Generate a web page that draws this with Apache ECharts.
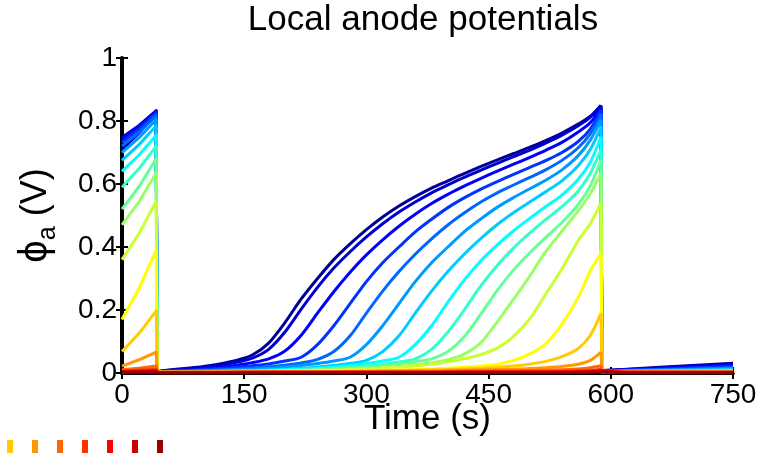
<!DOCTYPE html>
<html>
<head>
<meta charset="utf-8">
<script src="https://cdn.jsdelivr.net/npm/echarts@6.0.0/dist/echarts.min.js"></script>
<style>
  html, body { margin: 0; padding: 0; background: #ffffff; }
  #chart { width: 764px; height: 453px; }
</style>
</head>
<body>
<div id="chart"></div>
<script>
// Local anode potential along the electrode, one trace per segment (1 = near tab, 20 = far end)
const SEGMENT_NAMES = Array.from({ length: 20 }, (_, i) => 'Segment ' + (i + 1));

// x-axis ticks (s) and y-axis ticks (V)
const TIME_TICKS = [0, 150, 300, 450, 600, 750];
const POTENTIAL_TICKS = [0, 0.2, 0.4, 0.6, 0.8, 1];

// First pulse, 0-42 s: potential at start, middle and end of the pulse
const PULSE_TIME = [0, 21, 42];
const pulseStart = [0.710, 0.748, 0.742, 0.732, 0.720, 0.700, 0.675, 0.640, 0.590, 0.520, 0.470, 0.360, 0.170, 0.068, 0.022, 0.010, 0.006, 0.004, 0.003, 0.002];
const pulseMid   = [0.762, 0.786, 0.783, 0.774, 0.764, 0.747, 0.725, 0.692, 0.649, 0.592, 0.544, 0.443, 0.269, 0.126, 0.042, 0.015, 0.009, 0.006, 0.004, 0.002];
const pulseEnd   = [0.826, 0.833, 0.832, 0.826, 0.818, 0.805, 0.785, 0.755, 0.720, 0.680, 0.635, 0.545, 0.390, 0.197, 0.066, 0.022, 0.012, 0.008, 0.005, 0.003];

// Main ramp, 43-588 s
const RAMP_TIME = [43, 60, 80, 100, 120, 140, 160, 180, 200, 220, 240, 260, 280, 300, 320, 340, 360, 380, 400, 420, 440, 460, 480, 500, 520, 540, 560, 575, 588];
const rampValues = [
  [0.005, 0.010, 0.015, 0.021, 0.029, 0.040, 0.057, 0.095, 0.160, 0.235, 0.300, 0.360, 0.410, 0.455, 0.495, 0.530, 0.560, 0.587, 0.610, 0.633, 0.655, 0.676, 0.696, 0.716, 0.738, 0.762, 0.790, 0.815, 0.850],
  [0.005, 0.009, 0.013, 0.018, 0.025, 0.034, 0.047, 0.075, 0.130, 0.203, 0.272, 0.333, 0.385, 0.432, 0.474, 0.511, 0.543, 0.572, 0.597, 0.621, 0.643, 0.665, 0.686, 0.707, 0.730, 0.755, 0.785, 0.812, 0.848],
  [0.004, 0.007, 0.010, 0.014, 0.019, 0.025, 0.033, 0.045, 0.070, 0.120, 0.190, 0.258, 0.320, 0.375, 0.423, 0.466, 0.504, 0.538, 0.567, 0.593, 0.617, 0.640, 0.662, 0.684, 0.707, 0.732, 0.765, 0.795, 0.842],
  [0.004, 0.006, 0.008, 0.011, 0.014, 0.018, 0.023, 0.029, 0.038, 0.050, 0.090, 0.150, 0.220, 0.290, 0.350, 0.400, 0.448, 0.488, 0.525, 0.556, 0.583, 0.607, 0.630, 0.652, 0.674, 0.700, 0.735, 0.775, 0.835],
  [0.004, 0.005, 0.006, 0.008, 0.010, 0.013, 0.016, 0.020, 0.025, 0.032, 0.043, 0.068, 0.118, 0.190, 0.260, 0.322, 0.377, 0.426, 0.470, 0.508, 0.542, 0.571, 0.596, 0.620, 0.645, 0.675, 0.715, 0.760, 0.822],
  [0.003, 0.004, 0.005, 0.007, 0.008, 0.010, 0.012, 0.015, 0.019, 0.024, 0.030, 0.038, 0.050, 0.090, 0.150, 0.220, 0.290, 0.350, 0.400, 0.448, 0.488, 0.525, 0.556, 0.584, 0.612, 0.645, 0.690, 0.740, 0.805],
  [0.003, 0.003, 0.004, 0.005, 0.006, 0.007, 0.008, 0.010, 0.012, 0.015, 0.019, 0.024, 0.030, 0.040, 0.068, 0.118, 0.190, 0.260, 0.322, 0.377, 0.426, 0.470, 0.508, 0.542, 0.575, 0.610, 0.658, 0.710, 0.783],
  [0.002, 0.003, 0.003, 0.004, 0.005, 0.006, 0.007, 0.008, 0.010, 0.012, 0.015, 0.019, 0.024, 0.030, 0.038, 0.050, 0.090, 0.150, 0.225, 0.295, 0.355, 0.405, 0.450, 0.490, 0.528, 0.565, 0.615, 0.670, 0.750],
  [0.002, 0.003, 0.003, 0.004, 0.004, 0.005, 0.006, 0.007, 0.008, 0.010, 0.012, 0.015, 0.018, 0.022, 0.028, 0.035, 0.045, 0.075, 0.130, 0.200, 0.275, 0.340, 0.395, 0.443, 0.487, 0.528, 0.578, 0.635, 0.710],
  [0.002, 0.002, 0.003, 0.003, 0.004, 0.004, 0.005, 0.006, 0.007, 0.008, 0.010, 0.012, 0.015, 0.019, 0.023, 0.029, 0.036, 0.045, 0.068, 0.115, 0.185, 0.260, 0.325, 0.380, 0.430, 0.478, 0.535, 0.595, 0.677],
  [0.002, 0.002, 0.003, 0.003, 0.003, 0.004, 0.004, 0.005, 0.006, 0.007, 0.008, 0.009, 0.011, 0.014, 0.017, 0.021, 0.026, 0.032, 0.042, 0.060, 0.095, 0.160, 0.232, 0.305, 0.385, 0.450, 0.515, 0.570, 0.635],
  [0.002, 0.002, 0.003, 0.003, 0.003, 0.004, 0.004, 0.005, 0.006, 0.007, 0.008, 0.009, 0.011, 0.013, 0.016, 0.019, 0.023, 0.028, 0.035, 0.045, 0.058, 0.078, 0.115, 0.170, 0.250, 0.330, 0.420, 0.475, 0.540],
  [0.002, 0.002, 0.002, 0.003, 0.003, 0.003, 0.004, 0.004, 0.005, 0.005, 0.006, 0.006, 0.007, 0.008, 0.009, 0.010, 0.011, 0.013, 0.015, 0.018, 0.022, 0.027, 0.040, 0.060, 0.092, 0.155, 0.240, 0.325, 0.380],
  [0.002, 0.002, 0.002, 0.002, 0.003, 0.003, 0.003, 0.004, 0.004, 0.004, 0.005, 0.005, 0.006, 0.006, 0.007, 0.008, 0.009, 0.010, 0.011, 0.013, 0.015, 0.018, 0.022, 0.028, 0.037, 0.052, 0.078, 0.120, 0.190],
  [0.002, 0.002, 0.002, 0.002, 0.003, 0.003, 0.003, 0.003, 0.004, 0.004, 0.004, 0.005, 0.005, 0.005, 0.006, 0.006, 0.007, 0.007, 0.008, 0.009, 0.010, 0.011, 0.012, 0.014, 0.017, 0.021, 0.028, 0.040, 0.066],
  [0.002, 0.002, 0.002, 0.002, 0.002, 0.002, 0.003, 0.003, 0.003, 0.003, 0.003, 0.003, 0.004, 0.004, 0.004, 0.004, 0.005, 0.005, 0.005, 0.006, 0.006, 0.007, 0.007, 0.008, 0.009, 0.010, 0.013, 0.017, 0.023],
  [0.002, 0.002, 0.002, 0.002, 0.002, 0.002, 0.002, 0.002, 0.002, 0.002, 0.002, 0.002, 0.003, 0.003, 0.003, 0.003, 0.003, 0.003, 0.003, 0.003, 0.004, 0.004, 0.004, 0.004, 0.005, 0.005, 0.006, 0.008, 0.012],
  [0.001, 0.001, 0.001, 0.001, 0.001, 0.002, 0.002, 0.002, 0.002, 0.002, 0.002, 0.002, 0.002, 0.002, 0.002, 0.002, 0.002, 0.002, 0.002, 0.003, 0.003, 0.003, 0.003, 0.003, 0.003, 0.004, 0.004, 0.005, 0.008],
  [0.001, 0.001, 0.001, 0.001, 0.001, 0.001, 0.001, 0.001, 0.001, 0.001, 0.001, 0.001, 0.001, 0.001, 0.001, 0.001, 0.001, 0.001, 0.002, 0.002, 0.002, 0.002, 0.002, 0.002, 0.002, 0.002, 0.003, 0.004, 0.005],
  [0.001, 0.001, 0.001, 0.001, 0.001, 0.001, 0.001, 0.001, 0.001, 0.001, 0.001, 0.001, 0.001, 0.001, 0.001, 0.001, 0.001, 0.001, 0.001, 0.001, 0.001, 0.001, 0.001, 0.001, 0.001, 0.001, 0.002, 0.002, 0.003]
];

// Rest after the ramp, 589-750 s
const REST_TIME = [589, 620, 660, 700, 750];
const restValues = [
  [0.008, 0.012, 0.018, 0.024, 0.031],
  [0.007, 0.011, 0.016, 0.022, 0.028],
  [0.006, 0.010, 0.014, 0.019, 0.025],
  [0.006, 0.009, 0.012, 0.016, 0.021],
  [0.005, 0.008, 0.010, 0.013, 0.017],
  [0.005, 0.007, 0.009, 0.011, 0.014],
  [0.004, 0.006, 0.007, 0.009, 0.011],
  [0.004, 0.005, 0.006, 0.007, 0.009],
  [0.004, 0.005, 0.005, 0.006, 0.007],
  [0.003, 0.004, 0.005, 0.005, 0.006],
  [0.003, 0.004, 0.004, 0.005, 0.005],
  [0.003, 0.003, 0.004, 0.004, 0.004],
  [0.003, 0.003, 0.003, 0.003, 0.003],
  [0.003, 0.003, 0.003, 0.003, 0.003],
  [0.003, 0.003, 0.003, 0.003, 0.003],
  [0.003, 0.003, 0.003, 0.003, 0.003],
  [0.002, 0.002, 0.002, 0.002, 0.002],
  [0.002, 0.002, 0.002, 0.002, 0.002],
  [0.001, 0.001, 0.001, 0.001, 0.001],
  [0.001, 0.001, 0.001, 0.001, 0.001]
];

// Segments listed in the visible legend row
const LEGEND_SEGMENTS = SEGMENT_NAMES.slice(13);

// jet colormap, 20 steps
const JET = ['#000099', '#0000CC', '#0000FF', '#0033FF', '#0066FF', '#0099FF', '#00CCFF', '#00FFFF', '#33FFCC', '#66FF99',
             '#99FF66', '#CCFF33', '#FFFF00', '#FFCC00', '#FF9900', '#FF6600', '#FF3300', '#FF0000', '#CC0000', '#990000'];

const FONT = "'Liberation Sans', Arial, Helvetica, sans-serif";

// Each trace is drawn in three pieces: the pulse with its drop, the smooth ramp, and the drop into the rest period.
const series = [];
SEGMENT_NAMES.forEach((name, k) => {
  const style = { width: 3, color: JET[k], join: 'round' };
  const base = { type: 'line', name: name, showSymbol: false, symbol: 'none', clip: true, silent: true,
                 lineStyle: style, itemStyle: { color: JET[k] } };

  const pulse = [pulseStart[k], pulseMid[k], pulseEnd[k]];
  const pulsePts = PULSE_TIME.map((t, i) => [t, pulse[i]]);
  pulsePts.push([RAMP_TIME[0], rampValues[k][0]]);

  const rampPts = RAMP_TIME.map((t, i) => [t, rampValues[k][i]]);

  const last = RAMP_TIME.length - 1;
  const restPts = [[RAMP_TIME[last], rampValues[k][last]]].concat(REST_TIME.map((t, i) => [t, restValues[k][i]]));

  series.push(Object.assign({}, base, { data: pulsePts }));
  series.push(Object.assign({}, base, { data: rampPts, smooth: 0.3 }));
  series.push(Object.assign({}, base, { data: restPts }));
});

const xTickMin = TIME_TICKS[0], xTickMax = TIME_TICKS[TIME_TICKS.length - 1];
const yTickMin = POTENTIAL_TICKS[0], yTickMax = POTENTIAL_TICKS[POTENTIAL_TICKS.length - 1];

const tickStyle = { color: '#000', width: 2 };

const chart = echarts.init(document.getElementById('chart'), null, { renderer: 'canvas' });
chart.setOption({
  animation: false,
  backgroundColor: '#ffffff',
  title: {
    text: 'Local anode potentials',
    left: 423,
    top: 3,
    padding: 0,
    textAlign: 'center',
    textStyle: { fontFamily: FONT, fontSize: 35, fontWeight: 'normal', color: '#000' }
  },
  legend: {
    data: LEGEND_SEGMENTS,
    left: 7,
    top: 440,
    orient: 'horizontal',
    icon: 'rect',
    itemWidth: 6,
    itemHeight: 14,
    itemGap: 19,
    padding: 0,
    selectedMode: false,
    formatter: () => '',
    textStyle: { fontSize: 12 }
  },
  grid: {
    left: 122, right: 31, top: 58, bottom: 80,
    outerBoundsMode: 'none',
    containLabel: false
  },
  xAxis: [
    {
      type: 'value', min: xTickMin, max: xTickMax, interval: TIME_TICKS[1] - TIME_TICKS[0],
      position: 'bottom',
      name: 'Time (s)', nameLocation: 'middle', nameGap: 29, nameMoveOverlap: false,
      nameTextStyle: { fontFamily: FONT, fontSize: 35, color: '#000' },
      axisLine: { show: true, lineStyle: { color: '#000', width: 3 } },
      axisTick: { show: true, inside: true, length: 6, lineStyle: tickStyle },
      axisLabel: { show: true, margin: 8, fontFamily: FONT, fontSize: 28, color: '#000', showMinLabel: true, showMaxLabel: true },
      splitLine: { show: false }
    },
    {
      type: 'value', min: xTickMin, max: xTickMax, interval: TIME_TICKS[1] - TIME_TICKS[0],
      position: 'top',
      axisLine: { show: true, lineStyle: { color: '#000', width: 3 } },
      axisTick: { show: true, inside: true, length: 6, lineStyle: tickStyle },
      axisLabel: { show: false },
      splitLine: { show: false }
    }
  ],
  yAxis: [
    {
      type: 'value', min: yTickMin, max: yTickMax, interval: POTENTIAL_TICKS[1] - POTENTIAL_TICKS[0],
      position: 'left',
      name: '{phi|ϕ}{sub|a}{unit| (V)}',
      nameLocation: 'middle', nameRotate: 90, nameGap: 61, nameMoveOverlap: false,
      nameTextStyle: {
        fontFamily: FONT, color: '#000', padding: [0, 0, 0, 0],
        rich: {
          phi: { fontFamily: FONT, fontSize: 40, lineHeight: 50, verticalAlign: 'middle', color: '#000' },
          sub: { fontFamily: FONT, fontSize: 25, lineHeight: 50, verticalAlign: 'bottom', color: '#000' },
          unit: { fontFamily: FONT, fontSize: 36, lineHeight: 50, verticalAlign: 'middle', color: '#000' }
        }
      },
      axisLine: { show: true, lineStyle: { color: '#000', width: 4 } },
      axisTick: { show: true, inside: true, length: 6, lineStyle: tickStyle },
      axisLabel: { show: true, margin: 5, fontFamily: FONT, fontSize: 28, color: '#000', showMinLabel: true, showMaxLabel: true },
      splitLine: { show: false }
    },
    {
      type: 'value', min: yTickMin, max: yTickMax, interval: POTENTIAL_TICKS[1] - POTENTIAL_TICKS[0],
      position: 'right',
      axisLine: { show: true, lineStyle: { color: '#000', width: 3 } },
      axisTick: { show: true, inside: true, length: 6, lineStyle: tickStyle },
      axisLabel: { show: false },
      splitLine: { show: false }
    }
  ],
  series: series
});
</script>
</body>
</html>
